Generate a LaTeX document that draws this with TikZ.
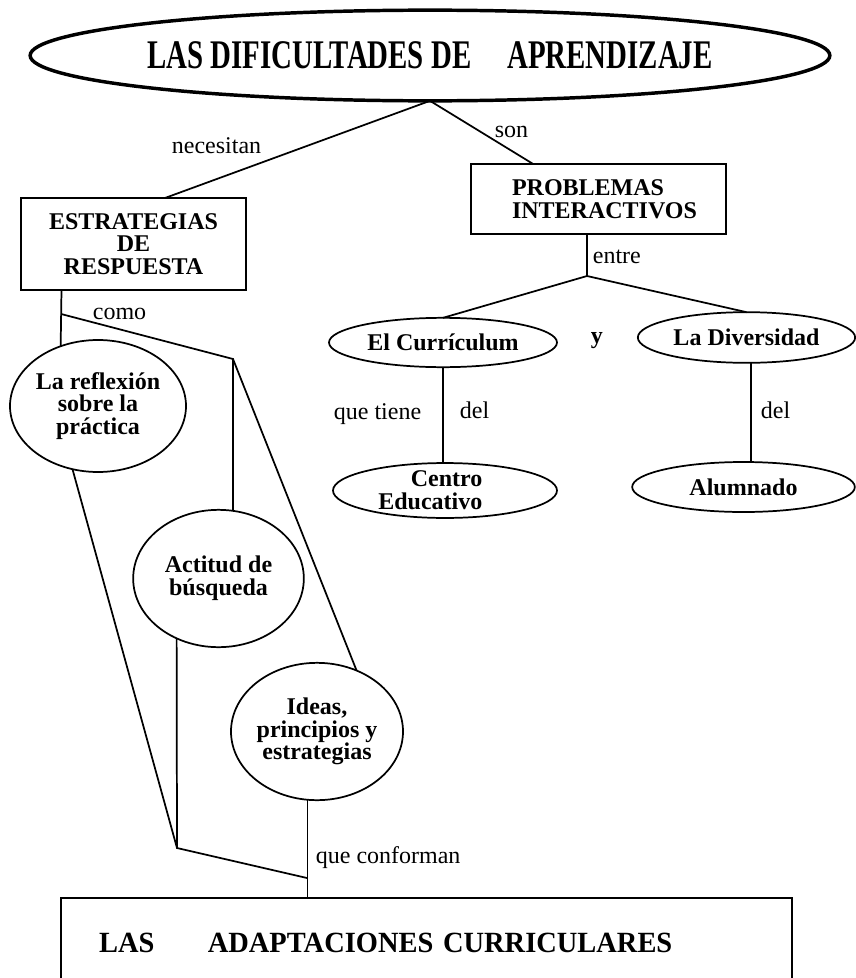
\documentclass[tikz,border=0pt]{standalone}
\usepackage{fontspec}
\setmainfont{Liberation Serif}
\newfontfamily\titlefont[FakeStretch=0.71]{Liberation Serif}
\newfontfamily\adaptfont[FakeStretch=0.97]{Liberation Serif}
\usetikzlibrary{shapes.geometric}

\begin{document}
\begin{tikzpicture}[x=0.75pt, y=-0.75pt, line width=1.3pt,
    oval/.style={ellipse, draw, inner sep=0pt, outer sep=0pt, align=center, font=\bfseries\fontsize{18}{17}\selectfont},
    box/.style={rectangle, draw, inner sep=0pt, outer sep=0pt, align=center, font=\bfseries\fontsize{18}{17}\selectfont},
    lbl/.style={anchor=base west, inner sep=0pt, font=\fontsize{18}{20}\selectfont}]

    \useasboundingbox (0,0) rectangle (856,978);
    \clip (0,0) rectangle (856,978);

    % Nodes
    \node[oval, line width=2.6pt, minimum width=550pt, minimum height=68pt, font=\titlefont\bfseries\fontsize{30.5}{32}\selectfont] (dific) at (430,55.5) {LAS DIFICULTADES DE\hspace{27pt}APRENDIZAJE};

    \node[box, minimum width=169pt, minimum height=69pt] (estrat) at (133.5,244) {ESTRATEGIAS\\DE\\RESPUESTA};
    \node[box, minimum width=191pt, minimum height=52.5pt, align=left, font=\bfseries\fontsize{18}{17}\selectfont] (probl) at (598.5,199) {\hspace*{9pt}PROBLEMAS\\\hspace*{9pt}INTERACTIVOS};

    \node[oval, minimum width=171pt, minimum height=37pt] (curric) at (443,342.5) {El Currículum};
    \node[oval, minimum width=163pt, minimum height=38pt] (divers) at (746.5,337.5) {La Diversidad};
    \node[oval, minimum width=168pt, minimum height=38pt, align=right, font=\bfseries\fontsize{18}{17}\selectfont] (centro) at (445,490.5) {Centro\kern22pt\\Educativo\kern22pt};
    \node[oval, minimum width=167pt, minimum height=37.5pt] (alumn) at (743.5,487) {Alumnado};

    \node[oval, minimum width=132pt, minimum height=99pt] (reflex) at (98,406) {La reflexión\\sobre la\\práctica};
    \node[oval, minimum width=128pt, minimum height=103pt] (actitud) at (218.5,578.5) {Actitud de\\búsqueda};
    \node[oval, minimum width=129pt, minimum height=103pt] (ideas) at (317,731.5) {Ideas,\\principios y\\estrategias};

    \node[box, anchor=north, minimum height=67.5pt, text width=548pt, align=left, font=\adaptfont\bfseries\fontsize{22}{24}\selectfont] (adapt) at (426.5,898) {\hspace*{28.5pt}LAS\hspace{40pt}ADAPTACIONES CURRICULARES};

    % Links
    \draw (dific.south) -- ([xshift=23.6pt]estrat.north);
    \draw (dific.south) -- ([xshift=-49pt]probl.north);

    \coordinate (entre) at (587,276);
    \draw ([xshift=-8.6pt]probl.south) -- (entre);
    \draw (curric.north) -- (entre) -- (divers.north);
    \draw (curric.south) -- (curric.south |- centro.north);
    \draw ([xshift=3.4pt]divers.south) -- ([xshift=3.4pt]divers.south |- alumn.north);

    \coordinate (como) at (61.1,314);
    \coordinate (bend) at (233,359);
    \coordinate (base) at (177,848);
    \coordinate (conf) at (307,878);
    \draw ([xshift=-54pt]estrat.south) -- (reflex.122);
    \draw (como) -- (bend) -- (bend |- actitud.north);
    \draw (bend) -- (ideas.57);
    \draw (reflex.248) -- (base) -- (conf);
    \draw (actitud.235) -- (base);
    \draw (ideas.262) -- (ideas.262 |- adapt.north);

    % Labels
    \node[lbl] (necesitan) at (171,153) {necesitan};
    \node[lbl] (son) at (494,137) {son};
    \node[lbl] (entrelbl) at (592,263) {entre};
    \node[lbl] (comolbl) at (92,319) {como};
    \node[lbl] (quetiene) at (333,419) {que tiene};
    \node[lbl] (delcurric) at (459,418) {del};
    \node[lbl] (deldivers) at (760,418) {del};
    \node[lbl, font=\bfseries\fontsize{18}{20}\selectfont] (ylbl) at (590,343) {y};
    \node[lbl] (queconf) at (315,863) {que conforman};

\end{tikzpicture}
\end{document}
